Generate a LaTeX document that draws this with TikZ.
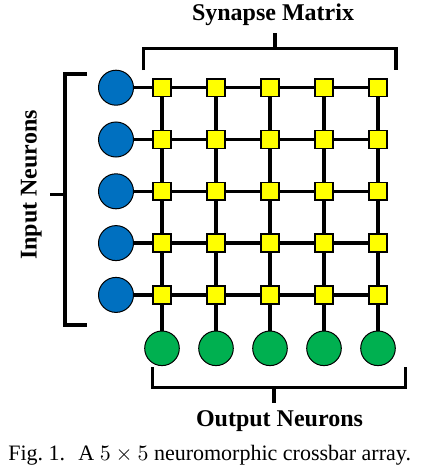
\documentclass[tikz,border=0pt]{standalone}
\usepackage{fontspec}
\setmainfont{Liberation Serif}
\definecolor{inblue}{HTML}{0070C0}
\definecolor{outgreen}{HTML}{00B050}
\definecolor{synyellow}{HTML}{FFFF00}
\begin{document}
\begin{tikzpicture}[x=0.5pt,y=-0.5pt,
  inneuron/.style={circle,draw=black,line width=0.5pt,fill=inblue,minimum size=17.5pt,inner sep=0pt},
  outneuron/.style={circle,draw=black,line width=0.5pt,fill=outgreen,minimum size=17.3pt,inner sep=0pt},
  synbox/.style={rectangle,draw=black,line width=0.8pt,fill=synyellow,minimum size=8.9pt,inner sep=0pt},
  wire/.style={line width=1.65pt,black},
  bracket/.style={line width=1.6pt,black},
  label/.style={font=\fontsize{12}{14}\selectfont\bfseries,inner sep=0pt}]
\useasboundingbox (0,0) rectangle (420,466);
% neurons and synapses
\foreach \i in {1,...,5}{
  \pgfmathsetmacro{\yy}{87.7+51.8*(\i-1)}
  \node[inneuron] (in-\i) at (116,\yy) {};
  \foreach \j in {1,...,5}{
    \pgfmathsetmacro{\xx}{162+54*(\j-1)}
    \node[synbox] (s-\i-\j) at (\xx,\yy) {};
  }
}
\foreach \j in {1,...,5}{
  \pgfmathsetmacro{\xx}{162+54*(\j-1)}
  \node[outneuron] (out-\j) at (\xx,348.3) {};
}
% row wires
\foreach \i in {1,...,5}{
  \draw[wire] (in-\i) -- (s-\i-1) -- (s-\i-2) -- (s-\i-3) -- (s-\i-4) -- (s-\i-5);
}
% column wires
\foreach \j in {1,...,5}{
  \draw[wire] (s-1-\j) -- (s-2-\j) -- (s-3-\j) -- (s-4-\j) -- (s-5-\j) -- (out-\j);
}
% top bracket
\coordinate (tA) at (143.3,70);
\coordinate (tB) at (143.3,48.3);
\coordinate (tC) at (396,48.3);
\coordinate (tD) at (396,70);
\coordinate (tM) at (275,48.3);
\coordinate (tT) at (275,33);
\draw[bracket] (tA) -- (tB) -- (tC) -- (tD);
\draw[bracket] (tM) -- (tT);
% left bracket
\coordinate (lA) at (87,74);
\coordinate (lB) at (65,74);
\coordinate (lC) at (65,325);
\coordinate (lD) at (87,325);
\coordinate (lM) at (65,194.5);
\coordinate (lT) at (50,194.5);
\draw[bracket] (lA) -- (lB) -- (lC) -- (lD);
\draw[bracket] (lM) -- (lT);
% bottom bracket
\coordinate (bA) at (152.3,367.3);
\coordinate (bB) at (152.3,387.7);
\coordinate (bC) at (405.3,387.7);
\coordinate (bD) at (405.3,367.3);
\coordinate (bM) at (274,387.7);
\coordinate (bT) at (274,403);
\draw[bracket] (bA) -- (bB) -- (bC) -- (bD);
\draw[bracket] (bM) -- (bT);
% labels
\node[label,anchor=base] (synlab) at (273,20.7) {Synapse Matrix};
\node[label,anchor=base] (outlab) at (279.5,426.7) {Output Neurons};
\node[label,anchor=base,rotate=90] (inlab) at (36.7,185) {Input Neurons};
\node[anchor=base west,inner sep=0pt,font=\fontsize{11}{13}\selectfont] (cap) at (8,460.5) {Fig.~1.\hspace{0.6em}A $5\times5$ neuromorphic crossbar array.};
\end{tikzpicture}
\end{document}
